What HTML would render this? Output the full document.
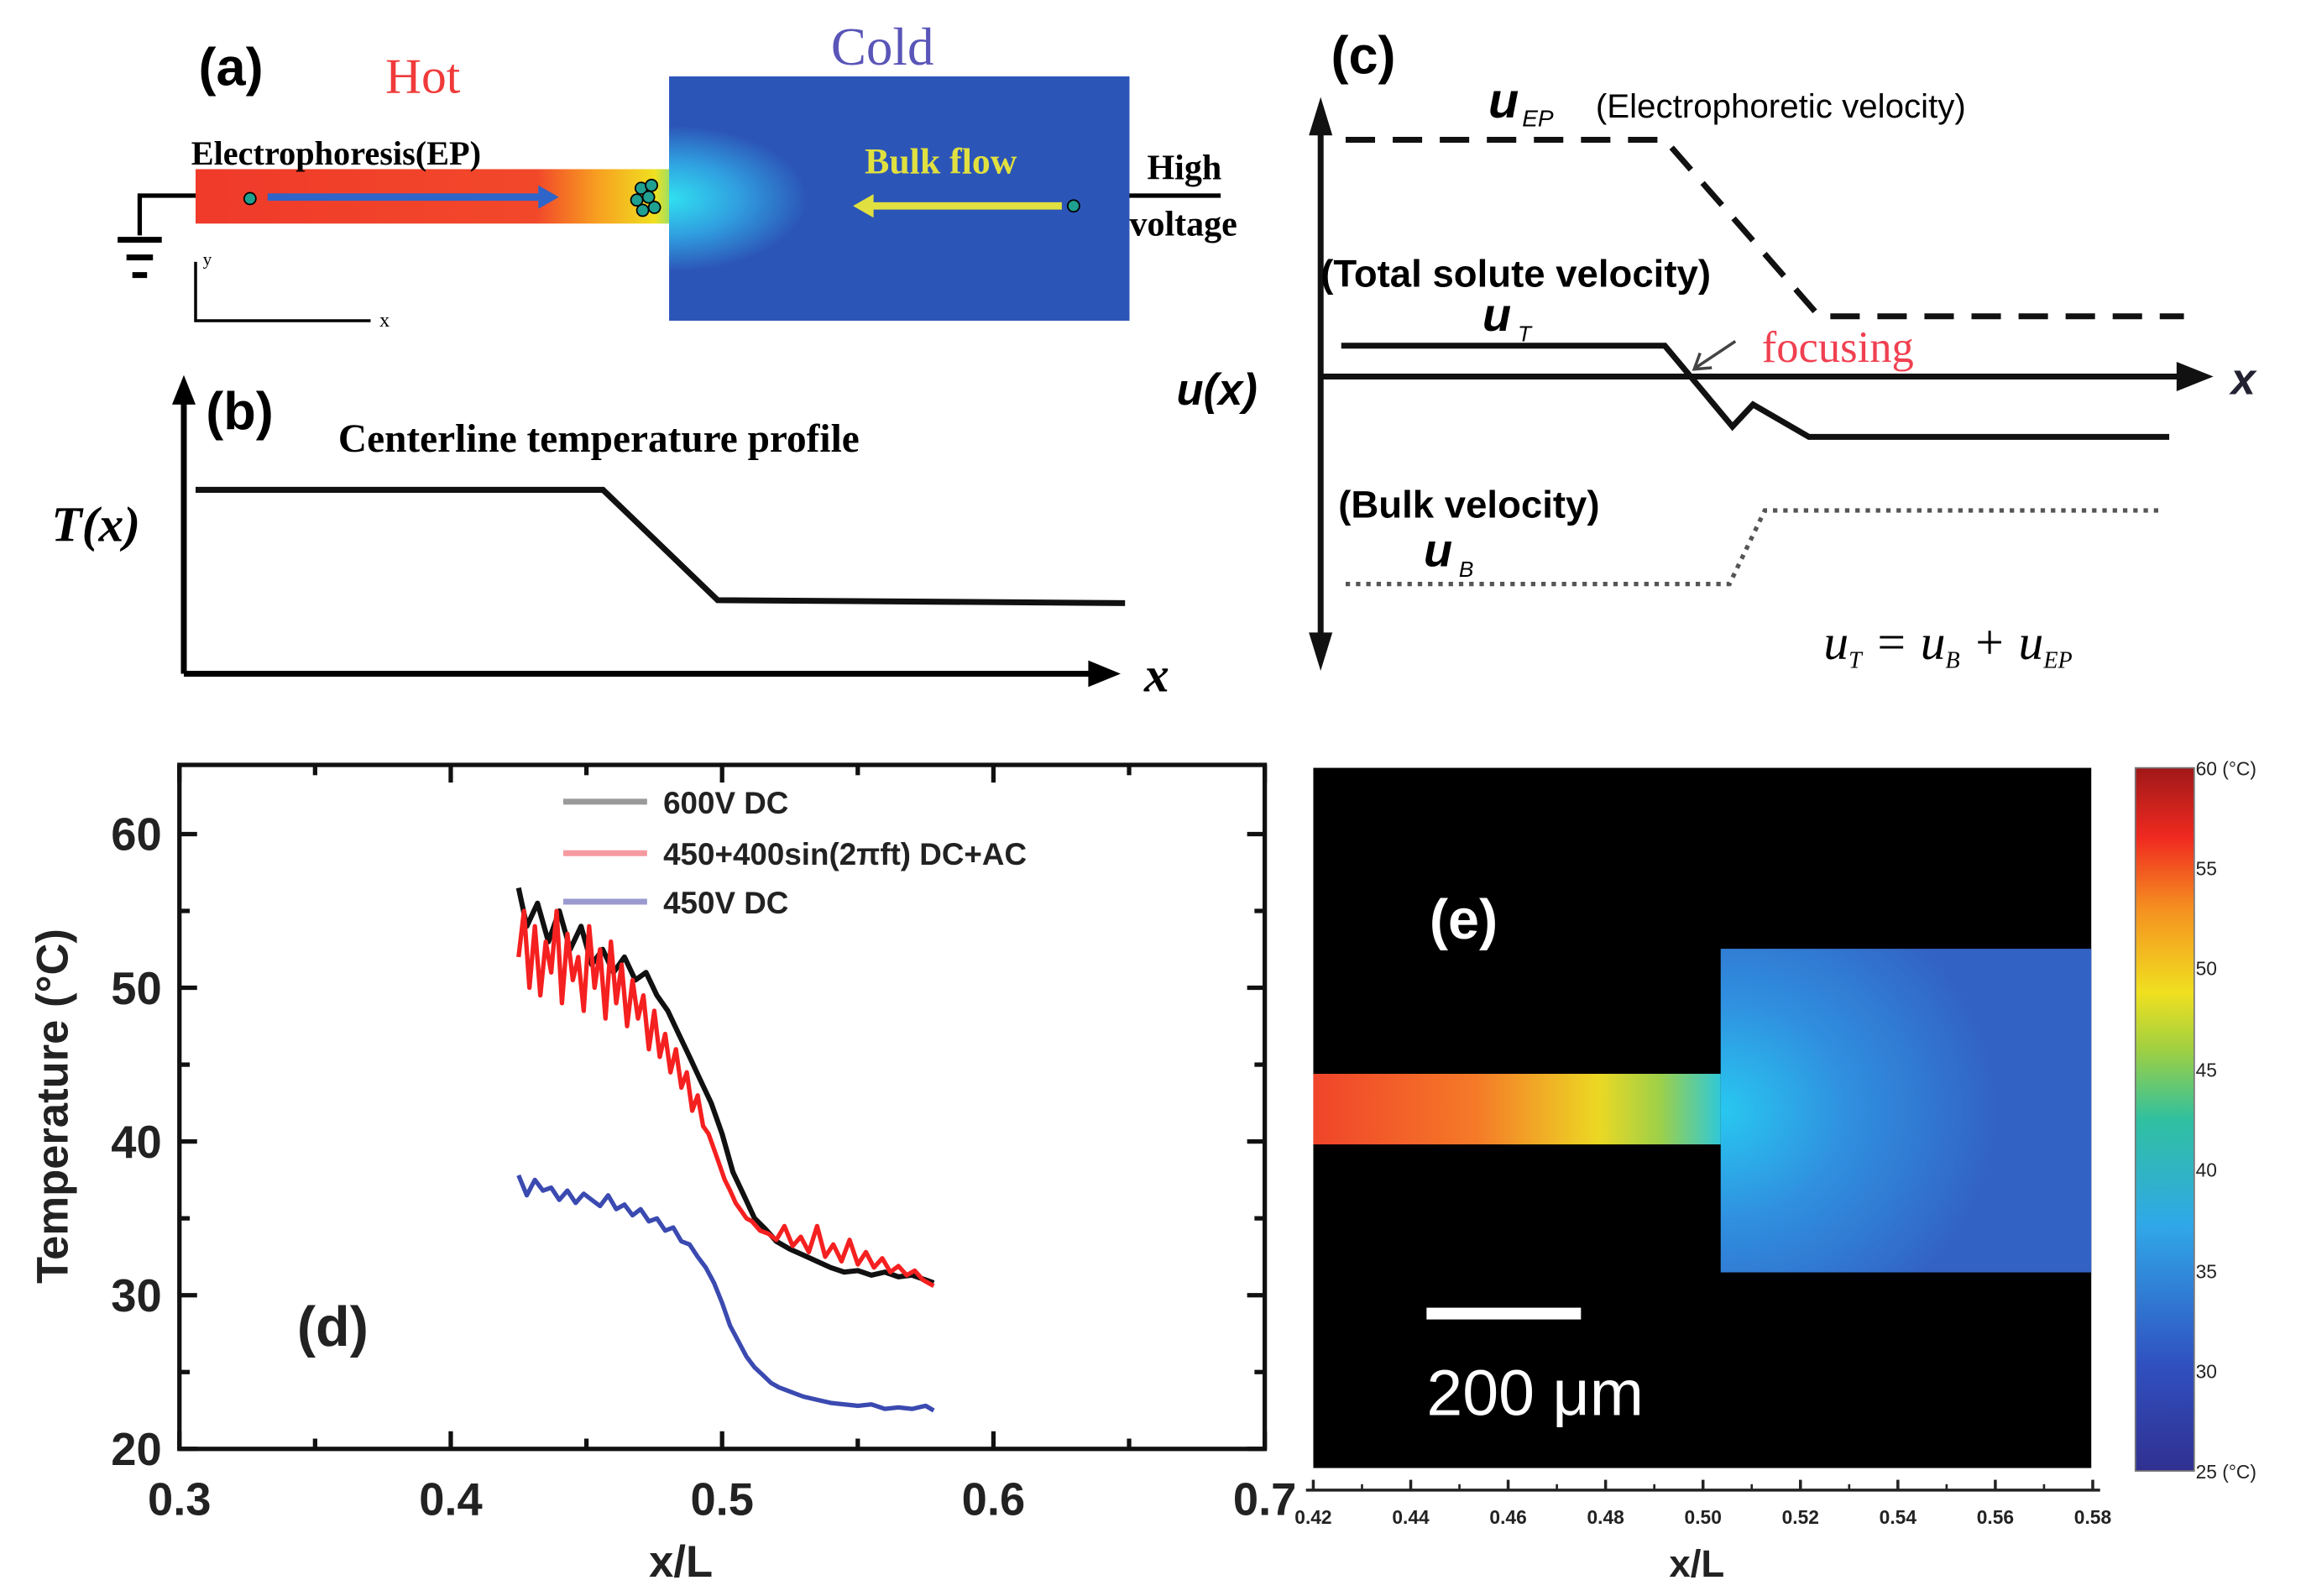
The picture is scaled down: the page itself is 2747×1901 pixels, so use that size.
<!DOCTYPE html>
<html><head><meta charset="utf-8"><style>
html,body{margin:0;padding:0;background:#fff;}
svg{display:block;}
.sf{font-family:"Liberation Serif",serif;}
.ss{font-family:"Liberation Sans",sans-serif;}
</style></head><body>
<svg id="fig" width="2747" height="1901" viewBox="0 0 1568 1085" preserveAspectRatio="none" xmlns="http://www.w3.org/2000/svg">
<defs>
<linearGradient id="chanA" x1="0" x2="1" y1="0" y2="0">
<stop offset="0" stop-color="#f03a2a"/><stop offset="0.72" stop-color="#f2482a"/><stop offset="0.85" stop-color="#f7a020"/><stop offset="0.97" stop-color="#f0e020"/><stop offset="1" stop-color="#a0e060"/>
</linearGradient>
<radialGradient id="glowA" cx="0" cy="0.5" r="0.3" fx="0" fy="0.5">
<stop offset="0" stop-color="#30e0f0"/><stop offset="0.5" stop-color="#30a0e0"/><stop offset="1" stop-color="#2c55b8"/>
</radialGradient>
<linearGradient id="chanE" x1="0" x2="1" y1="0" y2="0">
<stop offset="0" stop-color="#f0442a"/><stop offset="0.4" stop-color="#f57a28"/><stop offset="0.7" stop-color="#ecd824"/><stop offset="0.85" stop-color="#9ed048"/><stop offset="1" stop-color="#30c8d8"/>
</linearGradient>
<radialGradient id="boxE" cx="0" cy="0.5" r="0.75" fx="0" fy="0.5">
<stop offset="0" stop-color="#28c8f0"/><stop offset="0.45" stop-color="#3090e0"/><stop offset="1" stop-color="#3262c4"/>
</radialGradient>
<linearGradient id="jet" x1="0" x2="0" y1="1" y2="0">
<stop offset="0" stop-color="#303090"/><stop offset="0.15" stop-color="#3050c0"/><stop offset="0.35" stop-color="#30a8e8"/><stop offset="0.5" stop-color="#30c0a0"/><stop offset="0.6" stop-color="#a0d040"/><stop offset="0.68" stop-color="#f0e020"/><stop offset="0.8" stop-color="#f59020"/><stop offset="0.9" stop-color="#f02a20"/><stop offset="1" stop-color="#a01818"/>
</linearGradient>
</defs>

<!-- Panel (a) -->
<g>
<text class="ss" x="135" y="58" font-size="36" font-weight="bold">(a)</text>
<text class="sf" x="262" y="63" font-size="34" fill="#f03a3a">Hot</text>
<text class="sf" x="565" y="44" font-size="36" fill="#5a55b8">Cold</text>
<rect x="455" y="52" width="313" height="166" fill="#2c55b8"/>
<rect x="455" y="52" width="313" height="166" fill="url(#glowA)"/>
<rect x="133" y="115" width="322" height="37" fill="url(#chanA)"/>
<text class="sf" x="130" y="112" font-size="23" font-weight="bold">Electrophoresis(EP)</text>
<line x1="182" y1="134" x2="368" y2="134" stroke="#2f64c8" stroke-width="5"/>
<polygon points="366,126 380,134 366,142" fill="#2f64c8"/>
<circle cx="170" cy="135" r="4" fill="#20a090" stroke="#000" stroke-width="1"/>
<g fill="#20a090" stroke="#000" stroke-width="1">
<circle cx="436" cy="128" r="4"/><circle cx="443" cy="126" r="4"/><circle cx="433" cy="136" r="4"/><circle cx="441" cy="134" r="4"/><circle cx="437" cy="143" r="4"/><circle cx="445" cy="141" r="4"/>
</g>
<text class="sf" x="588" y="118" font-size="25" font-weight="bold" fill="#e0e040">Bulk flow</text>
<line x1="592" y1="140" x2="722" y2="140" stroke="#e0e040" stroke-width="5"/>
<polygon points="594,132 580,140 594,148" fill="#e0e040"/>
<circle cx="730" cy="140" r="4" fill="#20a090" stroke="#000" stroke-width="1"/>
<line x1="768" y1="133" x2="830" y2="133" stroke="#000" stroke-width="3"/>
<text class="sf" x="780" y="122" font-size="24" font-weight="bold">High</text>
<text class="sf" x="768" y="160" font-size="24" font-weight="bold">voltage</text>
<g stroke="#000" stroke-width="4">
<polyline points="133,133 95,133 95,160" fill="none" stroke-width="3"/>
<line x1="80" y1="163" x2="110" y2="163"/><line x1="86" y1="175" x2="104" y2="175"/><line x1="90" y1="187" x2="100" y2="187"/>
</g>
<g stroke="#000" stroke-width="2" fill="none">
<polyline points="133,178 133,218 252,218"/>
</g>
<text class="sf" x="258" y="222" font-size="14">x</text>
<text class="sf" x="138" y="180" font-size="12">y</text>
</g>

<!-- Panel (b) -->
<g>
<line x1="125" y1="458" x2="125" y2="262" stroke="#000" stroke-width="4"/>
<polygon points="117,275 125,255 133,275" fill="#000"/>
<line x1="125" y1="458" x2="745" y2="458" stroke="#000" stroke-width="4"/>
<polygon points="740,449 762,458 740,467" fill="#000"/>
<text class="ss" x="140" y="292" font-size="36" font-weight="bold">(b)</text>
<text class="sf" x="230" y="307" font-size="27" font-weight="bold">Centerline temperature profile</text>
<text class="sf" x="35" y="368" font-size="34" font-style="italic" font-weight="bold">T(x)</text>
<text class="sf" x="778" y="470" font-size="34" font-style="italic" font-weight="bold">x</text>
<polyline points="133,333 410,333 488,408 765,410" fill="none" stroke="#111" stroke-width="4"/>
</g>

<!-- Panel (c) -->
<g>
<line x1="898" y1="78" x2="898" y2="443" stroke="#111" stroke-width="4"/>
<polygon points="890,92 898,66 906,92" fill="#111"/>
<polygon points="890,430 898,456 906,430" fill="#111"/>
<text class="ss" x="905" y="50" font-size="36" font-weight="bold">(c)</text>
<text class="ss" x="1012" y="80" font-size="34" font-style="italic" font-weight="bold">u</text>
<text class="ss" x="1035" y="86" font-size="16" font-style="italic">EP</text>
<text class="ss" x="1085" y="80" font-size="23">(Electrophoretic velocity)</text>
<polyline points="915,95 1132,95 1237,215 1485,215" fill="none" stroke="#111" stroke-width="4" stroke-dasharray="20,12"/>
<line x1="898" y1="256" x2="1490" y2="256" stroke="#111" stroke-width="4"/>
<polygon points="1480,246 1505,256 1480,266" fill="#111"/>
<text class="ss" x="1517" y="268" font-size="30" font-style="italic" font-weight="bold" fill="#223">x</text>
<text class="ss" x="800" y="275" font-size="30" font-style="italic" font-weight="bold">u(x)</text>
<text class="ss" x="898" y="195" font-size="26" font-weight="bold">(Total solute velocity)</text>
<text class="ss" x="1008" y="225" font-size="32" font-style="italic" font-weight="bold">u</text>
<text class="ss" x="1032" y="232" font-size="15" font-style="italic">T</text>
<polyline points="912,235 1132,235 1178,290 1192,275 1230,297 1475,297" fill="none" stroke="#111" stroke-width="4"/>
<text class="sf" x="1198" y="246" font-size="30" fill="#f04050">focusing</text>
<line x1="1180" y1="232" x2="1153" y2="250" stroke="#444" stroke-width="2"/>
<polyline points="1156,240 1152,251 1164,250" fill="none" stroke="#444" stroke-width="2"/>
<text class="ss" x="910" y="352" font-size="26" font-weight="bold">(Bulk velocity)</text>
<text class="ss" x="968" y="385" font-size="32" font-style="italic" font-weight="bold">u</text>
<text class="ss" x="992" y="392" font-size="15" font-style="italic">B</text>
<polyline points="915,397 1176,397 1200,347 1470,347" fill="none" stroke="#555" stroke-width="3" stroke-dasharray="3,4"/>
<text class="sf" x="1240" y="448" font-size="34" font-style="italic">u<tspan font-size="16" dy="6">T</tspan><tspan dy="-6"> = u</tspan><tspan font-size="16" dy="6">B</tspan><tspan dy="-6"> + u</tspan><tspan font-size="16" dy="6">EP</tspan></text>
</g>

<!-- Panel (d) chart -->
<g id="chartD"></g>

<!-- Panel (e) -->
<g>
<rect x="893" y="522" width="529" height="476" fill="#000"/>
<rect x="1170" y="645" width="252" height="220" fill="url(#boxE)"/>
<rect x="893" y="730" width="277" height="48" fill="url(#chanE)"/>
<text class="ss" x="972" y="638" font-size="38" font-weight="bold" fill="#fff">(e)</text>
<rect x="970" y="889" width="105" height="8" fill="#fff"/>
<text class="ss" x="970" y="962" font-size="44" fill="#fff">200 μm</text>
<rect x="1452" y="522" width="40" height="478" fill="url(#jet)" stroke="#777" stroke-width="1"/>
<g class="ss" font-size="13" fill="#222">
<text x="1493" y="527">60 (°C)</text><text x="1493" y="595">55</text><text x="1493" y="663">50</text><text x="1493" y="732">45</text><text x="1493" y="800">40</text><text x="1493" y="869">35</text><text x="1493" y="937">30</text><text x="1493" y="1005">25 (°C)</text>
</g>
<line x1="888" y1="1013" x2="1428" y2="1013" stroke="#222" stroke-width="2"/>
<g id="eTicks" class="ss" font-size="13" font-weight="bold" fill="#222"></g>
<text class="ss" x="1135" y="1072" font-size="26" font-weight="bold" fill="#222">x/L</text>
</g>

<script>
// ---- Panel (d) data ----
const blackX = [0.425,0.428,0.432,0.436,0.44,0.444,0.448,0.452,0.456,0.46,0.464,0.468,0.472,0.476,0.48,0.484,0.488,0.492,0.496,0.5,0.504,0.508,0.512,0.516,0.52,0.525,0.53,0.535,0.54,0.545,0.55,0.555,0.56,0.565,0.57,0.575,0.578];
const blackY = [56.5,54,55.5,53,55,52.5,54,51.5,52.5,51,52,50.5,51,49.5,48.5,47,45.5,44,42.5,40.5,38,36.5,35,34.3,33.5,33,32.6,32.2,31.8,31.5,31.6,31.3,31.5,31.2,31.3,31,30.8];
const redX = [0.425,0.427,0.429,0.431,0.433,0.435,0.437,0.439,0.441,0.443,0.445,0.447,0.449,0.451,0.453,0.455,0.457,0.459,0.461,0.463,0.465,0.467,0.469,0.471,0.473,0.475,0.477,0.479,0.481,0.483,0.485,0.487,0.489,0.491,0.493,0.495,0.497,0.499,0.501,0.503,0.505,0.507,0.509,0.511,0.514,0.517,0.52,0.523,0.526,0.529,0.532,0.535,0.538,0.541,0.544,0.547,0.55,0.553,0.556,0.559,0.562,0.565,0.568,0.571,0.574,0.578];
const redY = [52,55,50,54,49.5,53,51,55,49,53.5,50.5,52,48.5,54,50,52.5,48,53,49,51.5,47.5,50.5,48,49.5,46,48.5,45.5,47,44.5,46,43.5,44.5,42,43,41,40.5,39.5,38.5,37.5,36.8,36,35.5,35,34.8,34.2,34,33.6,34.5,33.2,33.8,32.8,34.5,32.5,33.3,32.2,33.6,32,32.8,31.8,32.4,31.5,31.9,31.3,31.6,31,30.6];
const blueX = [0.425,0.428,0.431,0.434,0.437,0.44,0.443,0.446,0.449,0.452,0.455,0.458,0.461,0.464,0.467,0.47,0.473,0.476,0.479,0.482,0.485,0.488,0.491,0.494,0.497,0.5,0.503,0.506,0.509,0.512,0.515,0.518,0.521,0.524,0.527,0.53,0.535,0.54,0.545,0.55,0.555,0.56,0.565,0.57,0.575,0.578];
const blueY = [37.8,36.5,37.5,36.8,37,36.2,36.8,36,36.6,36.2,35.8,36.5,35.6,35.9,35.2,35.6,34.8,35,34.2,34.4,33.5,33.3,32.5,31.8,30.8,29.5,28,27,26,25.3,24.8,24.3,24,23.8,23.6,23.4,23.2,23,22.9,22.8,22.9,22.6,22.7,22.6,22.8,22.5];
const xTicks = [0.3,0.4,0.5,0.6,0.7];
const xTickLabels = ["0.3","0.4","0.5","0.6","0.7"];
const yTicks = [20,30,40,50,60];
const yTickLabels = ["20","30","40","50","60"];
const seriesNames = ["600V DC","450+400sin(2\u03c0ft) DC+AC","450V DC"];
const eTickLabels = ["0.42","0.44","0.46","0.48","0.50","0.52","0.54","0.56","0.58"];

const NS = "http://www.w3.org/2000/svg";
const X0=122, X1=860, Y0=985, Y1=520, XMIN=0.3, XMAX=0.7, YMIN=20, YMAX=64.5;
function sx(v){return X0+(v-XMIN)/(XMAX-XMIN)*(X1-X0);}
function sy(v){return Y0-(v-YMIN)/(YMAX-YMIN)*(Y0-Y1);}
function mk(tag, attrs, parent){const e=document.createElementNS(NS,tag);for(const k in attrs)e.setAttribute(k,attrs[k]);parent.appendChild(e);return e;}
const g = document.getElementById('chartD');

const frame = mk('rect',{x:X0,y:Y1,width:X1-X0,height:Y0-Y1,fill:'none',stroke:'#111','stroke-width':3},g);



// minor & major ticks
for(let v=XMIN; v<=XMAX+1e-9; v+=0.05){
  const major = Math.abs(Math.round(v*10)-v*10)<1e-6;
  const L = major?12:7;
  mk('line',{x1:sx(v),x2:sx(v),y1:Y0,y2:Y0-L,stroke:'#111','stroke-width':3},g);
  mk('line',{x1:sx(v),x2:sx(v),y1:Y1,y2:Y1+L,stroke:'#111','stroke-width':3},g);
}
for(let v=YMIN; v<=YMAX; v+=5){
  const L = (v%10===0)?12:7;
  mk('line',{x1:X0,x2:X0+L,y1:sy(v),y2:sy(v),stroke:'#111','stroke-width':3},g);
  mk('line',{x1:X1,x2:X1-L,y1:sy(v),y2:sy(v),stroke:'#111','stroke-width':3},g);
}
xTicks.forEach((v,i)=>{
  const t=mk('text',{x:sx(v),y:1030,'text-anchor':'middle','font-family':'Liberation Sans, sans-serif','font-size':31,'font-weight':'bold',fill:'#222'},g);
  t.textContent=xTickLabels[i];
  
  
});
yTicks.forEach((v,i)=>{
  const t=mk('text',{x:X0-12,y:sy(v)+11,'text-anchor':'end','font-family':'Liberation Sans, sans-serif','font-size':31,'font-weight':'bold',fill:'#222'},g);
  t.textContent=yTickLabels[i];
  
  
});
const xt=mk('text',{x:463,y:1072,'text-anchor':'middle','font-family':'Liberation Sans, sans-serif','font-size':30,'font-weight':'bold',fill:'#222'},g);
xt.textContent='x/L';


const yt=mk('text',{x:0,y:0,'text-anchor':'middle','font-family':'Liberation Sans, sans-serif','font-size':30,'font-weight':'bold',fill:'#222',transform:'translate(46,752) rotate(-90)'},g);
yt.textContent='Temperature (\u00b0C)';


const dl=mk('text',{x:202,y:915,'font-family':'Liberation Sans, sans-serif','font-size':38,'font-weight':'bold',fill:'#222'},g);
dl.textContent='(d)';



function series(xs, ys, color, w, name){
  const pts = xs.map((x,i)=>sx(x).toFixed(1)+','+sy(ys[i]).toFixed(1)).join(' ');
  const p=mk('polyline',{points:pts,fill:'none',stroke:color,'stroke-width':w,'stroke-linejoin':'round'},g);
  
  
}
series(blueX, blueY, '#3a4ab0', 3, 'series-450v-dc');
series(blackX, blackY, '#111', 3.5, 'series-600v-dc');
series(redX, redY, '#f52020', 3, 'series-450-400sin-dc-ac');

const legColors=['#999','#f59aa0','#9a9ad0'];
const legY=[545,580,613];
seriesNames.forEach((n,i)=>{
  const l=mk('line',{x1:383,x2:440,y1:legY[i],y2:legY[i],stroke:legColors[i],'stroke-width':4},g);
  
  
  const t=mk('text',{x:451,y:legY[i]+8,'font-family':'Liberation Sans, sans-serif','font-size':21,'font-weight':'bold',fill:'#222'},g);
  t.textContent=n;
  
  
});

// panel (e) axis ticks
const eg=document.getElementById('eTicks');
eTickLabels.forEach((lab,i)=>{
  const x=893+i*(1423-893)/8;
  mk('line',{x1:x,x2:x,y1:1013,y2:1006,stroke:'#222','stroke-width':2},eg);
  if(i<8) mk('line',{x1:x+(1423-893)/16,x2:x+(1423-893)/16,y1:1013,y2:1009,stroke:'#222','stroke-width':1.5},eg);
  const t=mk('text',{x:x,y:1036,'text-anchor':'middle'},eg);
  t.textContent=lab;
  
  
});
</script>
</svg>
</body></html>
